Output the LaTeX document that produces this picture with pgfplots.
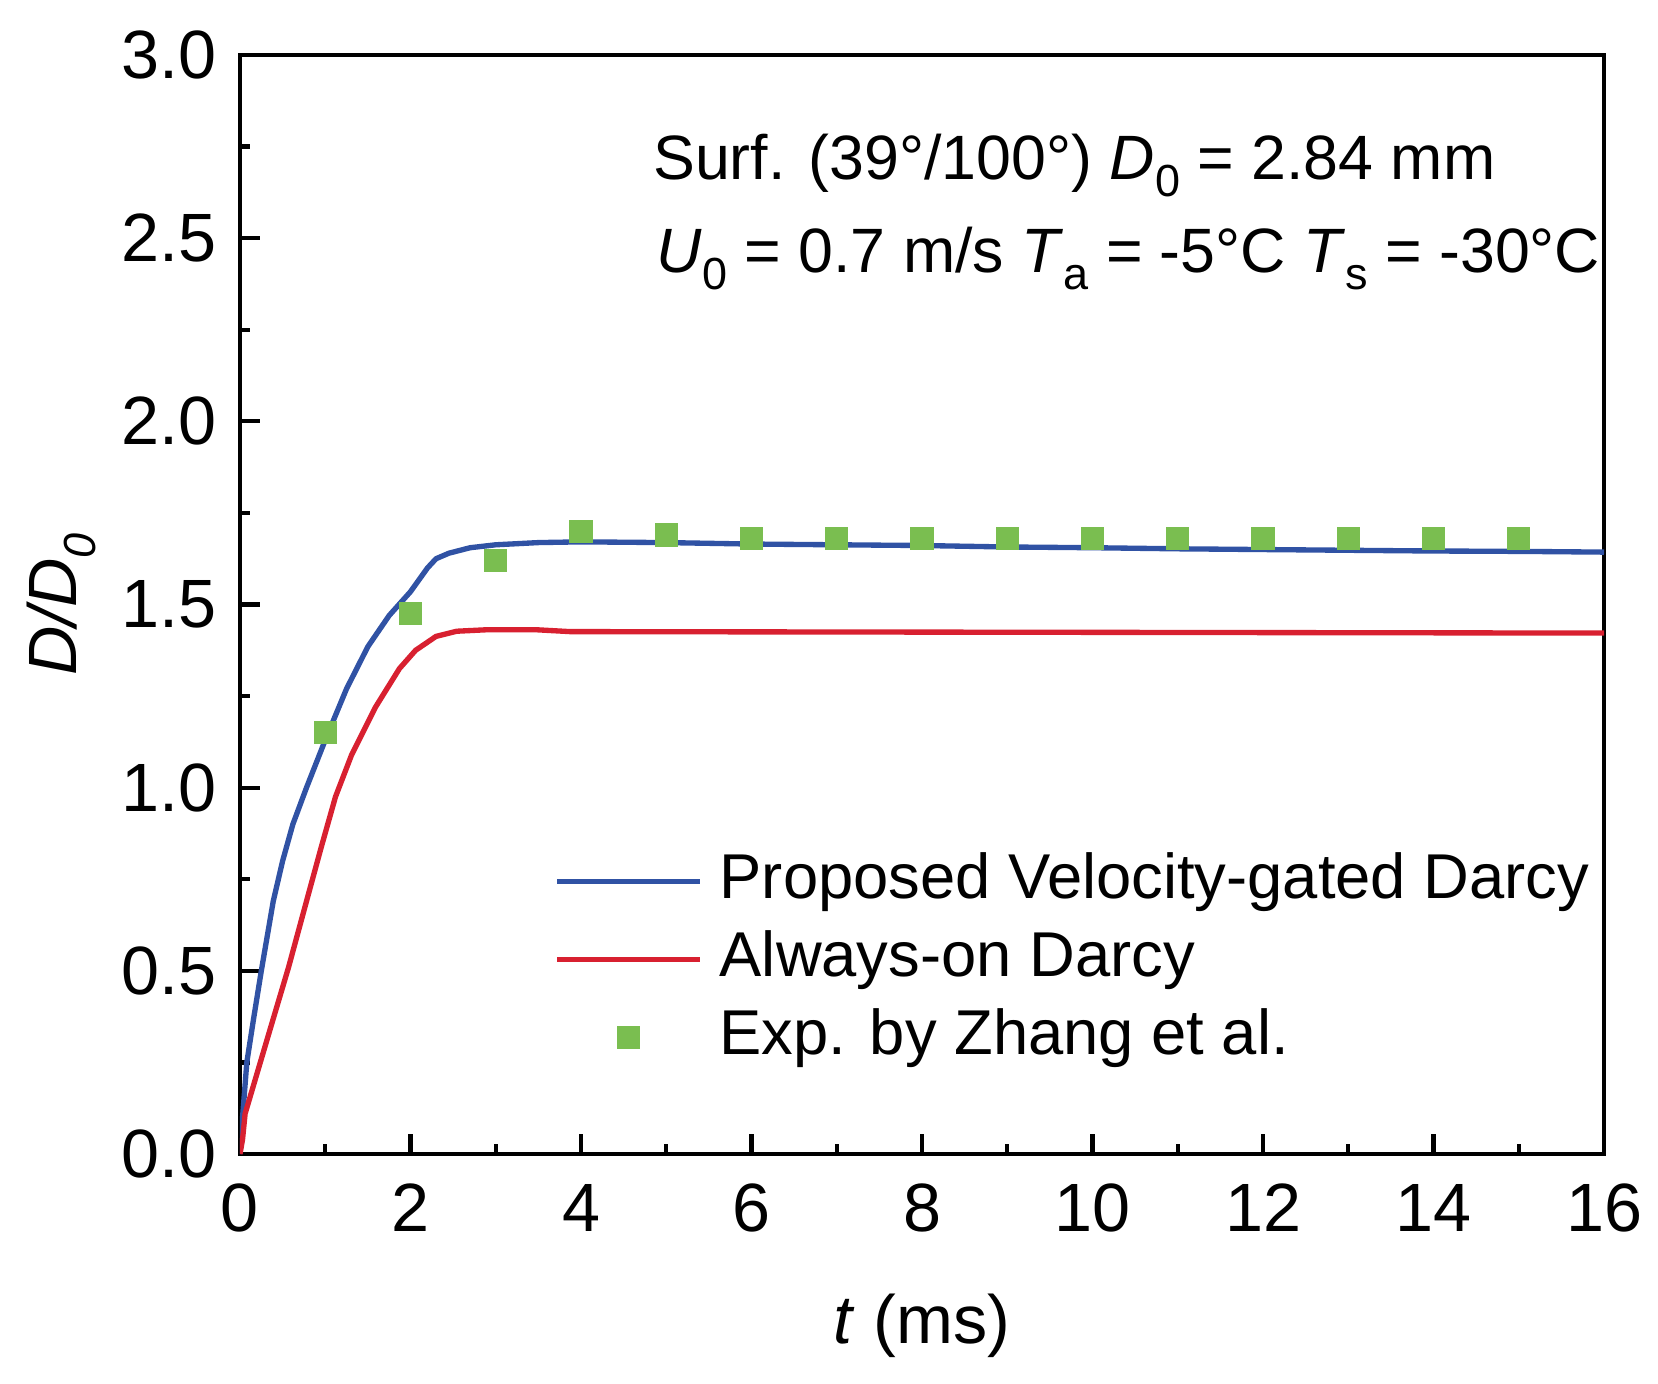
\documentclass[border=0pt]{standalone}
\usepackage{fontspec}
\setmainfont{Liberation Sans}
\usepackage{pgfplots}
\pgfplotsset{compat=1.18}
\definecolor{simblue}{RGB}{48,82,164}
\definecolor{simred}{RGB}{216,32,48}
\definecolor{expgreen}{RGB}{122,190,80}
\newcommand\fs{\fontsize{20.5}{24.6}\selectfont}
\newcommand\fslg{\fontsize{19}{22.8}\selectfont}
\newcommand\fsan{\fontsize{18.8}{22.6}\selectfont}
\newcommand\sub[1]{\raisebox{-0.27em}{\fontsize{13.5}{13.5}\selectfont #1}}
\pgfplotsset{
  lineleg/.style={legend image code/.code={\draw[##1] (0pt,0pt) -- (43pt,0pt);}},
  markleg/.style={legend image code/.code={\draw[##1] plot coordinates {(21.5pt,0pt)};}},
}

\begin{document}
\fs
\begin{tikzpicture}
\begin{axis}[
  scale only axis, width=409.2pt, height=329.7pt,
  xmin=0, xmax=16, ymin=0, ymax=3,
  xtick={0,2,...,16}, ytick={0,0.5,...,3},
  minor x tick num=1, minor y tick num=1,
  xtick pos=bottom, ytick pos=left,
  tick align=inside,
  major tick length=6pt, minor tick length=3pt,
  axis line style={line width=1.3pt},
  every tick/.style={black, line width=1.3pt},
  /pgf/number format/assume math mode=true,
  tick label style={font=\fs},
  yticklabel style={/pgf/number format/.cd, fixed, fixed zerofill, precision=1},
  xticklabel style={yshift=-2pt},
  xlabel={\textit{t} (ms)},
  ylabel={\textit{D/D}\sub{\textit{0}}},
  label style={font=\fs},
  x label style={at={(axis description cs:0.5,-0.172)}, anchor=base},
  y label style={at={(axis description cs:-0.1195,0.5)}, anchor=base},
  legend style={at={(axis cs:3.68,0.835)}, anchor=north west, draw=none,
    fill=none, inner sep=0pt, row sep=3.9pt, column sep=5pt, font=\fslg,
    nodes={inner sep=0pt, text height=15pt, text depth=4.5pt}},
  legend cell align=left,
  lineleg,
]
% simulation, velocity-gated Darcy
\addplot[simblue, line width=1.6pt, line join=round] coordinates {
(0,0) (0.03,0.10) (0.08,0.25) (0.16,0.37) (0.25,0.50) (0.39,0.69)
(0.5,0.80) (0.62,0.90) (0.78,1.0) (1.0,1.13) (1.25,1.27) (1.5,1.385)
(1.75,1.47) (2.0,1.535) (2.2,1.60) (2.3,1.625) (2.45,1.64) (2.7,1.655)
(3.0,1.663) (3.5,1.669) (4.0,1.671) (5.0,1.669) (6.0,1.665) (7.0,1.663)
(8.0,1.661) (9.0,1.657) (10,1.655) (11,1.652) (12,1.650) (13,1.648)
(14,1.646) (15,1.645) (16,1.643)};
% simulation, always-on Darcy
\addplot[simred, line width=1.6pt, line join=round] coordinates {
(0,0) (0.03,0.04) (0.06,0.11) (0.34,0.33) (0.57,0.51) (0.78,0.69)
(0.95,0.835) (1.12,0.975) (1.31,1.09) (1.59,1.22) (1.87,1.325)
(2.06,1.375) (2.3,1.413) (2.54,1.427) (2.89,1.431) (3.48,1.431)
(3.87,1.426) (16,1.422)};
% experiment
\addplot[only marks, mark=square*, mark size=3.3pt, expgreen, markleg]
  coordinates {
(1,1.15) (2,1.475) (3,1.62) (4,1.70) (5,1.69) (6,1.68) (7,1.68) (8,1.68)
(9,1.68) (10,1.68) (11,1.68) (12,1.68) (13,1.68) (14,1.68) (15,1.68)};
\legend{Proposed Velocity-gated Darcy, Always-on Darcy, Exp. by Zhang et al.}
\node[anchor=base west, font=\fsan, inner sep=0pt] at (axis cs:4.84,2.659)
  {Surf. (39°/100°) \textit{D}\sub{0} = 2.84 mm};
\node[anchor=base west, font=\fsan, inner sep=0pt] at (axis cs:4.88,2.405)
  {\textit{U}\sub{0} = 0.7 m/s \textit{T}\sub{a} = -5°C \textit{T}\sub{s} = -30°C};
\end{axis}
\pgfresetboundingbox
\path[use as bounding box] (current axis.south west) ++(-72pt,-68.7pt) rectangle ++(497.4pt,414.9pt);
\end{tikzpicture}
\end{document}
